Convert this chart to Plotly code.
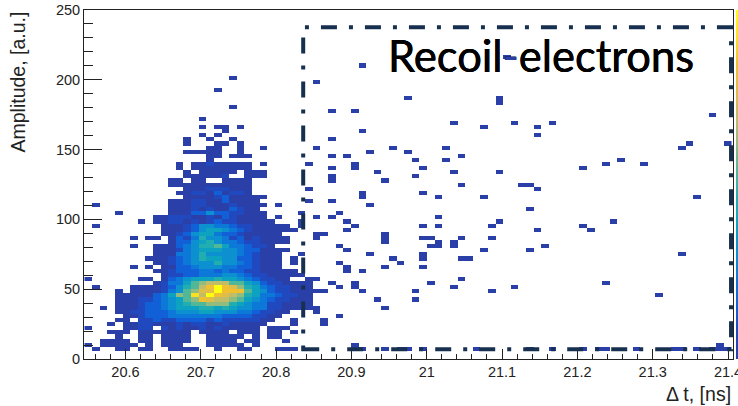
import plotly.graph_objects as go

# Histogram binning (85 x 85 bins)
DT_START, DT_STEP = 20.5457, 0.010113
AMP_START, AMP_STEP = 0.0, 2.9406
N_DT, N_AMP = 85, 85

# Colour level per bin for amplitude bins 50 down to 2, time bins 0..29 ('.' = empty, hex digit = level)
core_top_bin = 50
core_rows = [
    ".......... ...11111.. 1.........",
    ".......... ......11.1 11........",
    ".......... ......1... ..........",
    ".......... ..1.112111 11.1......",
    ".......... ..1.111111 11........",
    ".......... ...1.11111 .111......",
    ".......... ...111112. .111......",
    ".......... .11.11..11 11........",
    ".......... .111111111 11........",
    ".......... ...1112221 11........",
    ".......... ..11221312 21........",
    ".......... ...1111231 1111......",
    ".......... .111221131 111.......",
    ".1........ .111221112 1111.1....",
    ".......... .111212113 211.......",
    "....1..... .111335332 2111....1.",
    ".........1 1222112132 1111.1....",
    ".......1.1 1221212322 11111...1.",
    ".1........ 1112355443 2211111.1.",
    ".......... 1112356654 32111111..",
    ".......... 1123566433 211111....",
    "......1.11 .132475542 3121111...",
    ".......... .133567544 3221111...",
    "......1..1 1134577864 43221.....",
    ".........1 1124566655 4331111...",
    ".........1 1144575555 432111..1.",
    "........11 1234576655 332111.1..",
    ".........1 1234555755 432111.1..",
    "......1.1. 1133455544 332111....",
    ".........1 1233344343 32211111..",
    ".......... 1223344455 432211111.",
    "1......11. 1345666766 5432211...",
    ".........1 244689aaa8 8653221111",
    ".1....1111 23578acecb 9764322111",
    "....1.1111 24589bbecc c865322111",
    "....111113 4698daecba 9764432211",
    "....111223 45689cbaa9 8654322111",
    "....111233 4567889997 654422111.",
    "..1.111233 4566677676 554422111.",
    "....112233 3455566555 4432211...",
    ".....11233 3444444433 332211....",
    "....11.223 2233332322 22211..1..",
    "...1.11221 1121221121 1111...1..",
    "1....1122. 2121121211 111.111...",
    "...111.111 1111.1111. 111.11.1..",
    "....1..11. 1111..1111 1.1.11....",
    "..1111.11. 1111..1111 .11...1...",
    "1.11111.1. 111...1111 1.1.......",
    ".1..11.11. .1111..1.. 11...111..",
]

# Isolated single-count bins: (time bin, amplitude bin)
single_bins = [
    (19,68),(17,65),(19,61),(15,58),(15,56),(17,56),(18,56),(20,56),(18,55),(15,54),(17,54),
    (13,53),(16,53),(19,53),(13,52),(17,52),(18,52),(20,52),(16,51),(17,51),(20,51),(23,51),
    (30,67),(36,71),(55,73),(42,63),(54,63),(54,62),(32,60),(35,60),(82,59),(48,57),(56,57),
    (61,57),(52,56),(59,56),(36,55),(59,54),(32,53),(79,52),(84,52),(30,51),(40,51),(47,51),
    (78,51),(37,50),(42,50),(32,49),(34,49),(49,49),(43,48),(47,48),(70,48),(29,47),(35,47),
    (68,47),(73,47),(32,46),(35,46),(44,46),(65,46),(38,45),(48,45),(54,45),(32,44),(43,44),
    (32,43),(39,43),(49,42),(57,42),(58,42),(29,41),(59,41),(36,40),(44,40),(36,39),(46,39),
    (52,39),(80,39),(29,38),(32,38),(37,37),(58,36),(33,35),(30,34),(32,34),(46,34),(34,33),
    (54,33),(69,33),(35,32),(44,32),(46,32),(53,32),(65,32),(34,31),(59,31),(66,31),(30,30),
    (31,30),(39,30),(30,29),(39,29),(44,29),(45,29),(49,29),(53,29),(39,28),(46,28),(48,28),
    (33,27),(45,27),(46,27),(48,27),(60,27),(34,26),(52,26),(58,26),(37,25),(44,25),(78,25),
    (40,24),(44,24),(49,24),(50,24),(33,23),(41,23),(34,22),(39,22),(44,22),(34,21),(36,21),
    (29,19),(30,19),(49,19),(29,18),(32,18),(35,18),(45,18),(68,18),(33,17),(35,17),(48,17),
    (56,17),(29,16),(30,16),(31,16),(36,16),(43,16),(53,16),(29,15),(75,15),(29,14),(38,14),
    (43,14),(29,13),(29,12),(30,12),(39,12),(30,11),(33,10),(31,9),(31,8),(35,3),(83,3),(35,2),
    (36,2),(39,2),(41,2),(42,2),(44,2),(51,2),(58,2),(61,2),(65,2),(67,2),(68,2),(72,2),
    (77,2),(78,2),(80,2),(82,2),(83,2),(84,2),
]

level_colors = ["#2a3fa8", "#2049c0", "#1260d8", "#0c78d8", "#0c90d0", "#0ca2c0", "#22aeb0",
                "#50b898", "#90bc80", "#c0bc68", "#e0bc48", "#f0c030", "#fae020", "#ffff10"]

# Selection box in data units
box_dt = [20.836, 21.404]
box_amp = [6.9, 237.6]

dt_range = [20.545, 21.4066]
amp_range = [0, 250]
title_text = 'Recoil<span style="color:#2a3fa8">-</span>electrons'

z = [[None] * N_DT for _ in range(N_AMP)]
for i, row in enumerate(core_rows):
    for k, c in enumerate(row.replace(" ", "")):
        if c != ".":
            z[core_top_bin - i][k] = int(c, 16)
for k, r in single_bins:
    if z[r][k] is None:
        z[r][k] = 1

x_centers = [DT_START + (k + 0.5) * DT_STEP for k in range(N_DT)]
y_centers = [AMP_START + (r + 0.5) * AMP_STEP for r in range(N_AMP)]
n = len(level_colors)
colorscale = [[i / (n - 1), c] for i, c in enumerate(level_colors)]

fig = go.Figure(go.Heatmap(
    x=x_centers, y=y_centers, z=z, zmin=1, zmax=n, colorscale=colorscale, hoverongaps=False,
    colorbar=dict(x=1.0039, xanchor="left", y=0, yanchor="bottom", len=1, lenmode="fraction",
                  thickness=10, xpad=0, ypad=0, outlinewidth=0, ticks="", showticklabels=False),
))

axis_font = dict(family="Liberation Sans, Arial, sans-serif", size=14.5, color="#222222")
fig.update_xaxes(range=dt_range, tick0=0, dtick=0.1, ticks="inside", ticklen=10, tickcolor="#222222",
                 tickwidth=1, showline=True, linecolor="#222222", linewidth=1, mirror=True,
                 showgrid=False, zeroline=False, tickfont=axis_font, ticklabeloverflow="allow",
                 minor=dict(ticks="inside", ticklen=5, dtick=0.02, tick0=0, tickcolor="#222222",
                            showgrid=False))
fig.update_yaxes(range=amp_range, tick0=0, dtick=50, ticks="inside", ticklen=18, tickcolor="#222222",
                 tickwidth=1, showline=True, linecolor="#222222", linewidth=1, mirror=True,
                 showgrid=False, zeroline=False, tickfont=axis_font,
                 minor=dict(ticks="inside", ticklen=9, dtick=10, tick0=0, tickcolor="#222222",
                            showgrid=False))

fig.add_shape(type="rect", x0=box_dt[0], x1=box_dt[1], y0=box_amp[0], y1=box_amp[1], xref="x", yref="y",
              line=dict(color="#17304f", width=4, dash="16px,12px,4px,12px"), layer="above")

title_font = dict(family="Liberation Sans, Arial, sans-serif", size=19.5, color="#222222")
fig.add_annotation(text="Amplitude, [a.u.]", textangle=-90, xref="paper", yref="paper", x=-0.1017, y=0.795,
                   showarrow=False, font=title_font, xanchor="center", yanchor="middle")
fig.add_annotation(text="Δ t, [ns]", xref="paper", yref="paper", x=1.0, y=-0.10,
                   showarrow=False, font=title_font, xanchor="right", yanchor="middle")
fig.add_annotation(text=title_text, xref="paper", yref="paper", x=0.7034, y=0.8716, showarrow=False,
                   font=dict(family="Lato, sans-serif", size=43.5, color="#000000",
                             shadow="0.3px 0 0 #000, -0.3px 0 0 #000"),
                   xanchor="center", yanchor="middle")

fig.update_layout(width=738, height=406, autosize=False, paper_bgcolor="white", plot_bgcolor="white",
                  margin=dict(l=84, r=5, t=10.3, b=47.3, pad=0, autoexpand=False), showlegend=False)
fig.write_html("out.html", config={"displayModeBar": False},
               post_script="document.body.style.margin='0';document.body.style.overflow='hidden';")
